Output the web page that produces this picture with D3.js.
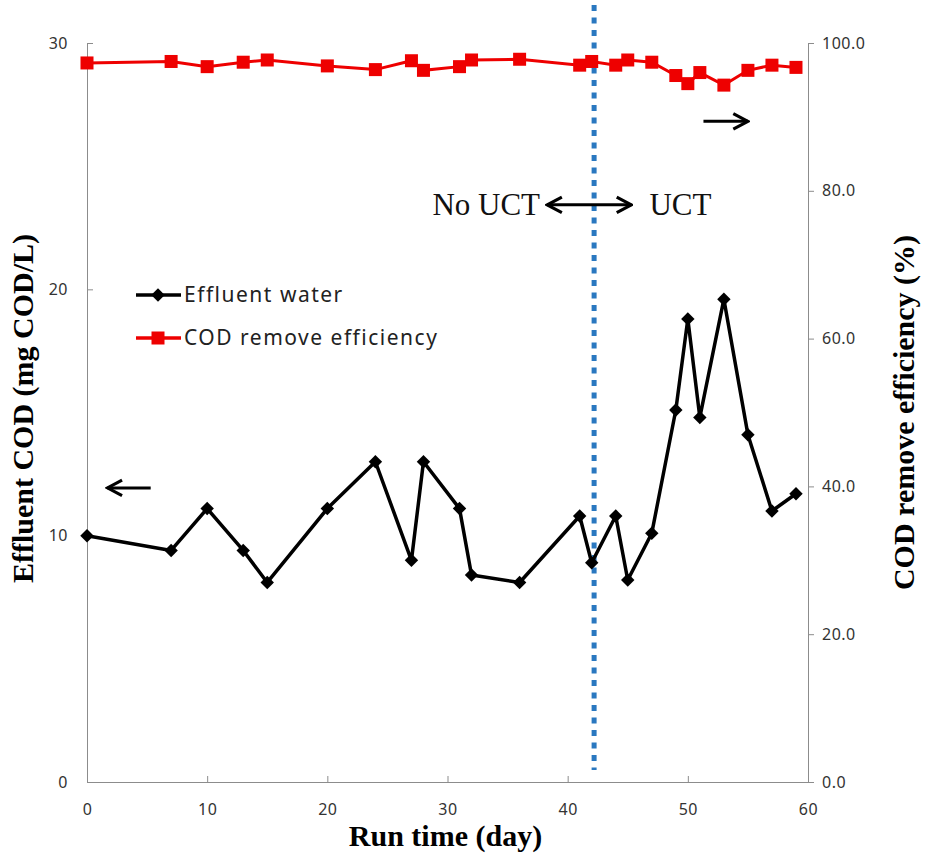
<!DOCTYPE html>
<html>
  <head>
    <meta charset="utf-8">
    <script src="https://d3js.org/d3.v7.min.js"></script>
    <title>Effluent COD and COD removal efficiency</title>
    <style>
      body { margin: 0; background: #fff; }
      .tick text { fill: #333; font-family: "Noto Sans", sans-serif; font-size: 16px; letter-spacing: 0.5px; }
      .tick line, .domain { stroke: #8c8c8c; }
      .axis-title { font-family: "Liberation Serif", serif; font-weight: bold; fill: #000; }
      .legend text { font-family: "Noto Sans", sans-serif; font-size: 21px; letter-spacing: 1.5px; fill: #222; }
      .note { font-family: "Liberation Serif", serif; font-size: 31px; fill: #111; }
    </style>
  </head>
  <body>
    <svg id="chart" width="926" height="854"></svg>
    <script>
      // run time (day)
      const days = [0, 7, 10, 13, 15, 20, 24, 27, 28, 31, 32, 36, 41, 42, 44, 45, 47, 49, 50, 51, 53, 55, 57, 59];
      // effluent COD (mg COD/L), left axis
      const effluent = [10.0, 9.4, 11.1, 9.4, 8.1, 11.1, 13.0, 9.0, 13.0, 11.1, 8.4, 8.1, 10.8, 8.9, 10.8, 8.2, 10.1, 15.1, 18.8, 14.8, 19.6, 14.1, 11.0, 11.7];
      // COD remove efficiency (%), right axis
      const efficiency = [97.3, 97.5, 96.8, 97.4, 97.7, 96.9, 96.4, 97.6, 96.3, 96.8, 97.7, 97.8, 97.0, 97.5, 97.0, 97.7, 97.4, 95.6, 94.5, 96.0, 94.3, 96.3, 97.0, 96.7];
      const xTicks = [0, 10, 20, 30, 40, 50, 60];
      const leftTicks = [0, 10, 20, 30];
      const rightTicks = [0, 20, 40, 60, 80, 100];
      const switchDay = 42.2;

      const svg = d3.select('#chart');
      const margin = { left: 87, right: 118, top: 43, bottom: 72 };
      const width = +svg.attr('width'), height = +svg.attr('height');
      const innerW = width - margin.left - margin.right;
      const innerH = height - margin.top - margin.bottom;
      const g = svg.append('g').attr('transform', `translate(${margin.left},${margin.top})`);

      const x = d3.scaleLinear().domain([0, 60]).range([0, innerW]);
      const yL = d3.scaleLinear().domain([0, 30]).range([innerH, 0]);
      const yR = d3.scaleLinear().domain([0, 100]).range([innerH, 0]);

      g.append('g').attr('transform', `translate(0,${innerH})`)
        .call(d3.axisBottom(x).tickValues(xTicks).tickSizeInner(-6).tickSizeOuter(0).tickPadding(27))
        .call(a => a.selectAll('.tick text').attr('dy', '0.35em'));
      g.append('g')
        .call(d3.axisLeft(yL).tickValues(leftTicks).tickSizeInner(-6).tickSizeOuter(0).tickPadding(19));
      g.append('g').attr('transform', `translate(${innerW},0)`)
        .call(d3.axisRight(yR).tickValues(rightTicks).tickFormat(d3.format('.1f')).tickSizeInner(6).tickSizeOuter(0).tickPadding(8));

      // axis titles
      svg.append('text').attr('class', 'axis-title')
        .attr('x', margin.left + innerW / 2 - 2).attr('y', 846)
        .attr('text-anchor', 'middle').style('font-size', '30px')
        .text('Run time (day)');
      svg.append('text').attr('class', 'axis-title')
        .attr('transform', `translate(33,${margin.top + innerH / 2 - 4}) rotate(-90)`)
        .attr('text-anchor', 'middle').style('font-size', '30px')
        .text('Effluent COD (mg COD/L)');
      svg.append('text').attr('class', 'axis-title')
        .attr('transform', `translate(914,${margin.top + innerH / 2}) rotate(-90)`)
        .attr('text-anchor', 'middle').style('font-size', '30px')
        .text('COD remove efficiency (%)');

      // blue dotted divider
      g.append('line')
        .attr('x1', x(switchDay)).attr('x2', x(switchDay))
        .attr('y1', -38).attr('y2', innerH - 12)
        .attr('stroke', '#2a78c0').attr('stroke-width', 5)
        .attr('stroke-dasharray', '6 6.5');

      const rows = days.map((d, i) => ({ day: d, eff: effluent[i], rem: efficiency[i] }));

      // effluent series
      g.append('path').datum(rows)
        .attr('fill', 'none').attr('stroke', '#000').attr('stroke-width', 3.5)
        .attr('stroke-linejoin', 'round')
        .attr('d', d3.line().x(d => x(d.day)).y(d => yL(d.eff)));
      const diamond = d3.symbol().type(d3.symbolDiamond2).size(115);
      g.selectAll('.dia').data(rows).enter().append('path')
        .attr('transform', d => `translate(${x(d.day)},${yL(d.eff)})`)
        .attr('d', diamond).attr('fill', '#000');

      // efficiency series
      g.append('path').datum(rows)
        .attr('fill', 'none').attr('stroke', '#ee0000').attr('stroke-width', 3)
        .attr('d', d3.line().x(d => x(d.day)).y(d => yR(d.rem)));
      g.selectAll('.sq').data(rows).enter().append('rect')
        .attr('x', d => x(d.day) - 6.5).attr('y', d => yR(d.rem) - 6.5)
        .attr('width', 13).attr('height', 13).attr('fill', '#ee0000');

      // arrows and notes
      const defs = svg.append('defs');
      defs.append('marker').attr('id', 'head').attr('viewBox', '0 0 10 10')
        .attr('refX', 9).attr('refY', 5).attr('markerWidth', 6.5).attr('markerHeight', 6.5)
        .attr('markerUnits', 'strokeWidth').attr('orient', 'auto-start-reverse')
        .append('path').attr('d', 'M1.5,1 L9,5 L1.5,9').attr('fill', 'none')
        .attr('stroke', '#000').attr('stroke-width', 1.6).attr('stroke-linejoin', 'miter');

      const arrow = (x1, y1, x2, y2, both) => {
        const l = g.append('line').attr('x1', x1).attr('y1', y1).attr('x2', x2).attr('y2', y2)
          .attr('stroke', '#000').attr('stroke-width', 3).attr('marker-end', 'url(#head)');
        if (both) l.attr('marker-start', 'url(#head)');
      };
      arrow(x(5.3), yL(11.94), x(1.7), yL(11.94));
      arrow(x(51.3), yR(89.4), x(55.0), yR(89.4));
      arrow(x(38.3), yR(78.1), x(45.3), yR(78.1), true);

      g.append('text').attr('class', 'note').attr('text-anchor', 'end')
        .attr('x', x(37.7)).attr('y', yR(78.1) + 10).text('No UCT');
      g.append('text').attr('class', 'note')
        .attr('x', x(46.8)).attr('y', yR(78.1) + 10).text('UCT');

      // legend
      const legend = svg.append('g').attr('class', 'legend');
      const items = [
        { label: 'Effluent water', color: '#000', shape: 'dia', y: 295 },
        { label: 'COD remove efficiency', color: '#ee0000', shape: 'sq', y: 338 }
      ];
      items.forEach(it => {
        legend.append('line').attr('x1', 136).attr('x2', 181).attr('y1', it.y).attr('y2', it.y)
          .attr('stroke', it.color).attr('stroke-width', 3.5);
        if (it.shape === 'dia') {
          legend.append('path').attr('transform', `translate(158,${it.y})`).attr('d', diamond).attr('fill', it.color);
        } else {
          legend.append('rect').attr('x', 151.5).attr('y', it.y - 6.5).attr('width', 13).attr('height', 13).attr('fill', it.color);
        }
        legend.append('text').attr('x', 184).attr('y', it.y + 7).text(it.label);
      });
    </script>
  </body>
</html>
